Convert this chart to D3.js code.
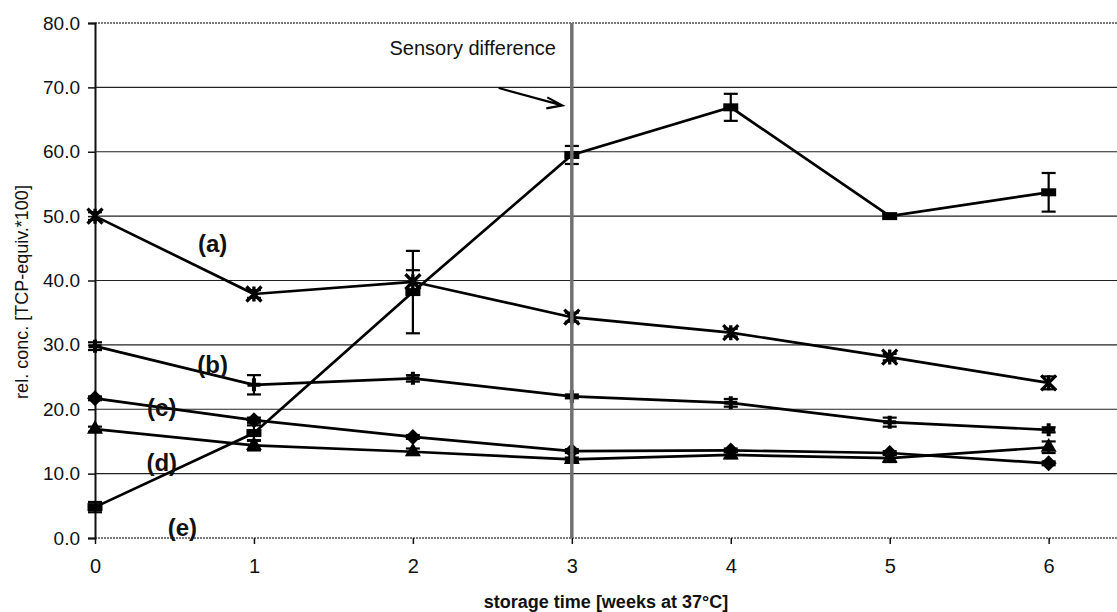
<!DOCTYPE html>
<html lang="en">
<head>
<meta charset="UTF-8">
<title>rel. conc. vs storage time</title>
<script src="https://cdn.jsdelivr.net/npm/d3@7"></script>
<style>
  body { margin: 0; background: #fff; }
  svg { display: block; font-family: "Liberation Sans", Arial, sans-serif; }
</style>
</head>
<body>
<svg width="1117" height="612" id="chart"></svg>
<script>
// data
const weeks = [0, 1, 2, 3, 4, 5, 6];
const yTicks = [0, 10, 20, 30, 40, 50, 60, 70, 80];

const seriesA = [50.0, 37.9, 39.8, 34.3, 31.9, 28.1, 24.1];
const seriesB = [29.8, 23.8, 24.8, 22.0, 21.0, 18.0, 16.8];
const seriesC = [21.7, 18.3, 15.7, 13.5, 13.6, 13.2, 11.6];
const seriesD = [16.9, 14.4, 13.4, 12.2, 12.9, 12.4, 14.1];
const seriesE = [4.8, 16.3, 38.2, 59.5, 66.9, 50.0, 53.7];

const errA = [0.6, 0.6, 1.8, 0.7, 0.6, 0.5, 1.0];
const errB = [0.6, 1.5, 0.5, 0.3, 0.6, 0.7, 0.4];
const errC = [0.3, 0.4, 0.3, 0.3, 0.3, 0.3, 0.3];
const errD = [0.4, 0.8, 0.5, 0.3, 0.5, 0.6, 0.9];
const errE = [0.8, 1.2, 6.4, 1.4, 2.1, 0.3, 3.0];

const sensoryWeek = 3;

const svg = d3.select('#chart');
const x = d3.scaleLinear().domain([0, 6.43]).range([95, 1117]);
const y = d3.scaleLinear().domain([0, 80]).range([538, 23]);

// gridlines
svg.append('g').selectAll('line').data(yTicks.filter(d => d > 0 && d < 80)).join('line')
  .attr('x1', x(0)).attr('x2', x.range()[1])
  .attr('y1', d => y(d)).attr('y2', d => y(d))
  .attr('stroke', '#222').attr('stroke-width', 1.2);

// top border + bottom axis line (dotted gray look)
[80, 0].forEach(v => {
  svg.append('line')
    .attr('x1', x(0)).attr('x2', x.range()[1])
    .attr('y1', y(v)).attr('y2', y(v))
    .attr('stroke', '#7a7a7a').attr('stroke-width', 2).attr('stroke-dasharray', '2 1');
});

// axes
const yAxis = d3.axisLeft(y).tickValues(yTicks).tickFormat(d => d.toFixed(1)).tickSize(7).tickPadding(8);
const gy = svg.append('g').attr('transform', `translate(${x(0)},0)`).call(yAxis);
gy.select('.domain').attr('stroke', '#111').attr('stroke-width', 2);
gy.selectAll('.tick line').attr('stroke', '#111').attr('stroke-width', 1.5);
gy.selectAll('.tick text').attr('font-size', 19).attr('fill', '#111')
  .attr('font-family', '"Liberation Sans", Arial, sans-serif');

const xAxis = d3.axisBottom(x).tickValues(weeks).tickFormat(d3.format('d')).tickSize(6).tickPadding(15);
const gx = svg.append('g').attr('transform', `translate(0,${y(0)})`).call(xAxis);
gx.select('.domain').remove();
gx.selectAll('.tick line').attr('stroke', '#111').attr('stroke-width', 1.5);
gx.selectAll('.tick text').attr('font-size', 20).attr('fill', '#111')
  .attr('font-family', '"Liberation Sans", Arial, sans-serif');

// axis titles
svg.append('text').text('storage time [weeks at 37°C]')
  .attr('x', (x(0) + x.range()[1]) / 2).attr('y', 608)
  .attr('text-anchor', 'middle').attr('font-size', 18).attr('font-weight', 'bold').attr('fill', '#111');

svg.append('text').text('rel. conc. [TCP-equiv.*100]')
  .attr('transform', 'translate(28,292) rotate(-90)')
  .attr('text-anchor', 'middle').attr('font-size', 18).attr('fill', '#111');

// series
const series = [
  {name: 'a', values: seriesA, err: errA, marker: 'asterisk'},
  {name: 'b', values: seriesB, err: errB, marker: 'plus'},
  {name: 'c', values: seriesC, err: errC, marker: 'diamond'},
  {name: 'd', values: seriesD, err: errD, marker: 'triangle'},
  {name: 'e', values: seriesE, err: errE, marker: 'dash'}
];

const line = d3.line().x((d, i) => x(weeks[i])).y(d => y(d));

const gLines = svg.append('g');
series.forEach(s => {
  gLines.append('path').datum(s.values).attr('d', line)
    .attr('fill', 'none').attr('stroke', '#000').attr('stroke-width', 2.7);
});

// error bars
const gErr = svg.append('g').attr('stroke', '#000').attr('stroke-width', 2.2);
series.forEach(s => {
  s.values.forEach((v, i) => {
    const cx = x(weeks[i]);
    const top = y(v + s.err[i]), bot = y(v - s.err[i]);
    gErr.append('line').attr('x1', cx).attr('x2', cx).attr('y1', top).attr('y2', bot);
    gErr.append('line').attr('x1', cx - 7).attr('x2', cx + 7).attr('y1', top).attr('y2', top);
    gErr.append('line').attr('x1', cx - 7).attr('x2', cx + 7).attr('y1', bot).attr('y2', bot);
  });
});

// markers
const gMark = svg.append('g');
function drawMarker(type, cx, cy) {
  if (type === 'asterisk') {
    const r = 7.5;
    const p = `M${cx - r},${cy - r}L${cx + r},${cy + r}M${cx - r},${cy + r}L${cx + r},${cy - r}M${cx},${cy - r}L${cx},${cy + r}`;
    gMark.append('path').attr('d', p).attr('stroke', '#000').attr('stroke-width', 3.3).attr('fill', 'none');
  } else if (type === 'plus') {
    const r = 6.5;
    const p = `M${cx - r},${cy}L${cx + r},${cy}M${cx},${cy - r}L${cx},${cy + r}`;
    gMark.append('path').attr('d', p).attr('stroke', '#000').attr('stroke-width', 4).attr('fill', 'none');
  } else if (type === 'diamond') {
    const r = 8;
    gMark.append('path').attr('d', `M${cx},${cy - r}L${cx + r},${cy}L${cx},${cy + r}L${cx - r},${cy}Z`).attr('fill', '#000');
  } else if (type === 'triangle') {
    gMark.append('path').attr('d', d3.symbol(d3.symbolTriangle, 110)()).attr('transform', `translate(${cx},${cy})`).attr('fill', '#000');
  } else if (type === 'dash') {
    gMark.append('rect').attr('x', cx - 7.5).attr('y', cy - 4).attr('width', 15).attr('height', 8).attr('fill', '#000');
  }
}
series.forEach(s => s.values.forEach((v, i) => drawMarker(s.marker, x(weeks[i]), y(v))));

// sensory difference line, text and arrow
svg.append('line')
  .attr('x1', x(sensoryWeek)).attr('x2', x(sensoryWeek)).attr('y1', y(80)).attr('y2', y(0))
  .attr('stroke', '#707070').attr('stroke-width', 3.5);

svg.append('text').text('Sensory difference')
  .attr('x', x(2.9)).attr('y', y(75)).attr('text-anchor', 'end')
  .attr('font-size', 20).attr('fill', '#111');

const ax1 = x(2.54), ay1 = y(69.9), ax2 = x(2.94), ay2 = y(67.2);
svg.append('path')
  .attr('d', `M${ax1},${ay1}L${ax2},${ay2}M${ax2 - 15},${ay2 - 8}L${ax2},${ay2}L${ax2 - 16},${ay2 + 3}`)
  .attr('fill', 'none').attr('stroke', '#000').attr('stroke-width', 2.2);

// series labels
const labelPos = [
  {t: '(a)', wx: 0.74, v: 45.8},
  {t: '(b)', wx: 0.74, v: 26.9},
  {t: '(c)', wx: 0.42, v: 20.3},
  {t: '(d)', wx: 0.42, v: 11.7},
  {t: '(e)', wx: 0.55, v: 1.6}
];
svg.append('g').selectAll('text').data(labelPos).join('text')
  .text(d => d.t)
  .attr('x', d => x(d.wx)).attr('y', d => y(d.v)).attr('dy', '0.35em')
  .attr('text-anchor', 'middle').attr('font-size', 24).attr('font-weight', 'bold').attr('fill', '#111');
</script>
</body>
</html>
